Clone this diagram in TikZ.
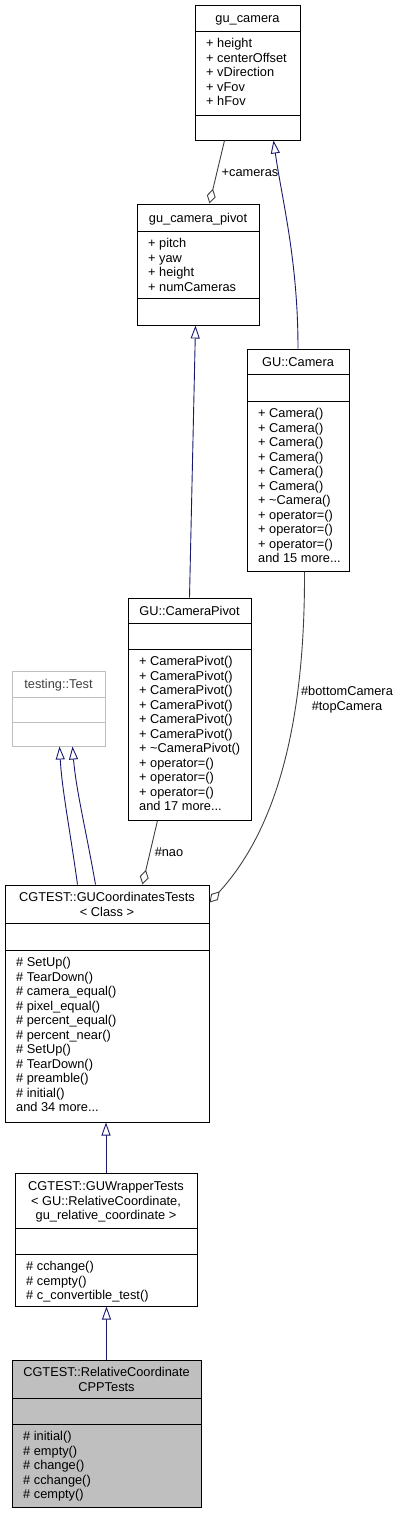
\documentclass[tikz,border=0pt]{standalone}
\usepackage{fontspec}
\setmainfont{Liberation Sans}
\usetikzlibrary{arrows.meta,fit,calc}
\definecolor{midnight}{HTML}{191970}
\definecolor{agggrey}{HTML}{404040}
\definecolor{boxgrey}{HTML}{BFBFBF}
\definecolor{lightedge}{HTML}{BFBFBF}
\definecolor{greytext}{HTML}{404040}
\newcommand\umlbox[8][]{%
  \node[fit={(#3,#4)(#5,#8)}, inner sep=0pt, draw=black, line width=1pt, #1] (#2) {};
  \draw[line width=1pt, draw=black, #1] (#3,#6) -- (#5,#6) (#3,#7) -- (#5,#7);
}
\tikzset{
  umlfont/.style={font=\fontsize{12.8}{14.5}\selectfont},
  members/.style={anchor=north west, inner sep=0pt, align=left, umlfont},
  title/.style={anchor=base, inner sep=0pt, umlfont},
  mtitle/.style={anchor=north, inner sep=0pt, align=center, umlfont},
  inherit/.style={draw=midnight, line width=0.9pt, -{Triangle[fill=white, length=13pt, width=9pt]}},
  aggreg/.style={draw=agggrey, line width=0.9pt, -{Diamond[fill=white, length=15pt, width=9pt]}},
  lbl/.style={inner sep=0pt, umlfont},
}
\begin{document}
\begin{tikzpicture}[x=1pt, y=-1pt]
\useasboundingbox (0,0) rectangle (405,1513);

% gu_camera
\umlbox{gucam}{195}{5}{300}{31}{115}{140}
\node[title] (gucamt) at (247.5,22.6) {gu\_camera};
\node[members] (gucamm) at (206,37.4) {\strut + height\\+ centerOffset\\+ vDirection\\+ vFov\\+ hFov};

% gu_camera_pivot
\umlbox{gcp}{137}{204}{259}{231}{298}{325}
\node[title] (gcpt) at (198,222.1) {gu\_camera\_pivot};
\node[members] (gcpm) at (148,237.4) {\strut + pitch\\+ yaw\\+ height\\+ numCameras};

% GU::Camera
\umlbox{cam}{247}{349}{349}{374}{401}{571}
\node[title] (camt) at (298,366.1) {GU::Camera};
\node[members] (camm) at (258,407.4) {\strut + Camera()\\+ Camera()\\+ Camera()\\+ Camera()\\+ Camera()\\+ Camera()\\+ \textasciitilde Camera()\\+ operator=()\\+ operator=()\\+ operator=()\\and 15 more...};

% GU::CameraPivot
\umlbox{pivot}{128}{598}{251}{623}{649}{820}
\node[title] (pivott) at (189.5,615.1) {GU::CameraPivot};
\node[members] (pivotm) at (139,655.4) {\strut + CameraPivot()\\+ CameraPivot()\\+ CameraPivot()\\+ CameraPivot()\\+ CameraPivot()\\+ CameraPivot()\\+ \textasciitilde CameraPivot()\\+ operator=()\\+ operator=()\\+ operator=()\\and 17 more...};

% testing::Test
\umlbox[draw=lightedge]{test}{12}{671}{105}{697}{722}{746}
\node[title, text=greytext] (testt) at (58.5,688.6) {testing::Test};

% CGTEST::GUCoordinatesTests
\umlbox{gct}{5}{885}{209}{923}{950}{1122}
\node[mtitle] (gctt) at (107,891.2) {\strut CGTEST::GUCoordinatesTests\\< Class >};
\node[members] (gctm) at (16,956.4) {\strut \# SetUp()\\\# TearDown()\\\# camera\_equal()\\\# pixel\_equal()\\\# percent\_equal()\\\# percent\_near()\\\# SetUp()\\\# TearDown()\\\# preamble()\\\# initial()\\and 34 more...};

% CGTEST::GUWrapperTests
\umlbox{gw}{15}{1173}{197}{1228}{1254}{1306}
\node[mtitle] (gwt) at (106,1180.5) {\strut CGTEST::GUWrapperTests\\< GU::RelativeCoordinate,\\ gu\_relative\_coordinate >};
\node[members] (gwm) at (26,1260.4) {\strut \# cchange()\\\# cempty()\\\# c\_convertible\_test()};

% CGTEST::RelativeCoordinateCPPTests
\umlbox[fill=boxgrey]{rel}{12}{1360}{201}{1398}{1424}{1507}
\node[mtitle] (relt) at (106.5,1366.2) {\strut CGTEST::RelativeCoordinate\\CPPTests};
\node[members] (relm) at (23,1430.4) {\strut \# initial()\\\# empty()\\\# change()\\\# cchange()\\\# cempty()};

% connectors
\draw[inherit] (cam.north) .. controls (298,260) and (282,200) .. ($(gucam.south west)+(79,0)$);
\draw[aggreg] ($(gucam.south west)+(30,0)$) -- ($(gcp.north west)+(73,0)$);
\node[lbl, anchor=base] (lcams) at (250,176.6) {+cameras};
\draw[inherit] ($(pivot.north west)+(62,0)$) -- ($(gcp.south west)+(59,0)$);
\draw[aggreg] ($(pivot.south west)+(30,0)$) -- ($(gct.north west)+(138,0)$);
\node[lbl, anchor=base] (lnao) at (169,856.6) {\#nao};
\draw[aggreg] ($(cam.south west)+(58,0)$) .. controls (305,700) and (285,820) .. ($(gct.north east)+(0,18)$);
\node[lbl, anchor=north, align=center] (lcam2) at (347,685.3) {\strut \#bottomCamera\\\#topCamera};
\draw[inherit] ($(gct.north west)+(73,0)$) .. controls (70,830) and (62,790) .. ($(test.south west)+(48,0)$);
\draw[inherit] ($(gct.north west)+(91,0)$) .. controls (86,830) and (76,790) .. ($(test.south west)+(61,0)$);
\draw[inherit] (gw.north) -- (gw.north |- gct.south);
\draw[inherit] (rel.north) -- (rel.north |- gw.south);
\end{tikzpicture}
\end{document}
